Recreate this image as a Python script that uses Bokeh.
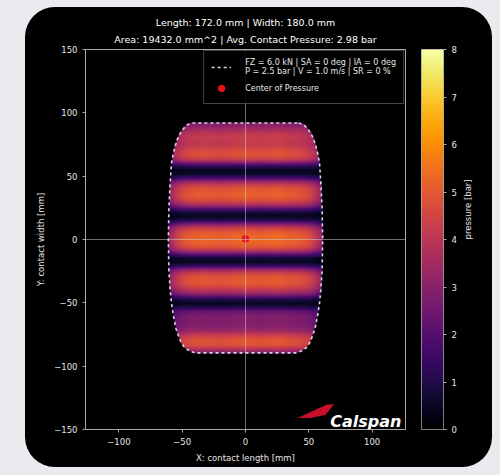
import numpy as np
from bokeh.plotting import figure
from bokeh.models import (LinearColorMapper, Span, Legend, LegendItem, Label,
                          Spacer, FixedTicker, Title)
from bokeh.layouts import row, column
from bokeh.palettes import Inferno256
from bokeh.embed import file_html
from bokeh.resources import INLINE

# ---------------- data ----------------
title_line1 = "Length: 172.0 mm | Width: 180.0 mm"
title_line2 = "Area: 19432.0 mm^2 | Avg. Contact Pressure: 2.98 bar"
legend_patch_label = ("FZ = 6.0 kN | SA = 0 deg | IA = 0 deg\n"
                      "P = 2.5 bar | V = 1.0 m/s | SR = 0 %")
legend_cop_label = "Center of Pressure"

# pressure [bar] along the patch centre line, per row (y in mm)
row_y = [90, 87, 84, 81, 78, 75, 72, 69, 66, 63, 60, 57, 54, 51, 48, 45, 42, 39, 36, 33,
         30, 27, 24, 21, 18, 15, 12, 9, 6, 3, 0, -3, -6, -9, -12, -15, -18, -21, -24, -27,
         -30, -33, -36, -39, -42, -45, -48, -51, -54, -57, -60, -63, -66, -69, -72, -75,
         -78, -81, -84, -87, -90]
row_p = [3.0, 3.5, 4.0, 4.3, 4.3, 4.2, 4.5, 4.8, 4.9, 4.4, 2.9, 1.1, 0.5, 0.6, 1.8, 3.5,
         4.6, 5.0, 5.2, 5.1, 4.7, 3.7, 2.2, 0.8, 0.5, 1.0, 2.8, 4.3, 5.0, 5.3, 5.4, 5.3,
         5.0, 4.0, 2.2, 0.7, 0.5, 1.4, 3.3, 4.5, 5.0, 5.1, 4.9, 4.4, 3.6, 2.3, 0.8, 0.5,
         1.2, 2.4, 2.8, 2.9, 2.9, 3.0, 3.4, 4.2, 4.8, 5.0, 4.8, 3.8, 2.6]

# lateral pressure factor across the patch (x in mm)
lat_x = [-62, -58, -54, -50, -46, -42, -38, -34, -30, -26, -22, -18, -14, -10, -6, -2,
         2, 6, 10, 14, 18, 22, 26, 30, 34, 38, 42, 46, 50, 54, 58, 62]
lat_f = [0.55, 0.70, 0.82, 0.90, 0.94, 0.96, 0.97, 0.98, 0.98, 0.97, 0.96, 0.96, 0.97,
         0.98, 0.99, 1.00, 1.00, 0.99, 0.98, 0.98, 0.99, 1.00, 1.00, 0.99, 0.97, 0.96,
         0.95, 0.93, 0.89, 0.81, 0.69, 0.55]

# contact patch outline: half width (mm) at y (mm)
outline_y = [92, 90.5, 87.5, 84, 80, 74, 68, 60, 45, 25, 0, -25, -40, -50, -60, -70, -76,
             -81, -85.5, -88, -89.5]
outline_hw = [42, 46, 49, 51.5, 53.5, 55.5, 57, 58.5, 59.5, 60.5, 61, 60.5, 59.5, 58.5,
              57, 55, 53, 51, 48, 44, 40]

cop_x = [0.0]
cop_y = [0.5]

x_ticks = [-100, -50, 0, 50, 100]
y_ticks = [-150, -100, -50, 0, 50, 100, 150]
cb_ticks = [0, 1, 2, 3, 4, 5, 6, 7, 8]

# ---------------- build pressure field ----------------
ry = np.array(row_y[::-1], dtype=float)
rp = np.array(row_p[::-1], dtype=float)
gx = np.arange(-63.0, 63.01, 0.5)
gy = np.arange(-92.0, 92.01, 0.5)
P = np.interp(gy, ry, rp)
F = np.interp(gx, np.array(lat_x, float), np.array(lat_f, float))
img = np.outer(P, F)
oy = np.array(outline_y[::-1], float)
ohw = np.array(outline_hw[::-1], float)
hw = np.interp(gy, oy, ohw)
mask = ((np.abs(gx)[None, :] > hw[:, None])
        | (gy[:, None] > max(outline_y)) | (gy[:, None] < min(outline_y)))
img[mask] = np.nan

FONT = "DejaVu Sans"
TXT = "#e6e6e6"
AX = "#a8a8a8"

mapper = LinearColorMapper(palette=Inferno256, low=0, high=8, nan_color="black")

p = figure(width=385, height=460, x_range=(-126.4, 126.4), y_range=(-150, 150),
           output_backend="svg", toolbar_location=None,
           min_border_left=60, min_border_right=5, min_border_top=42, min_border_bottom=38,
           background_fill_color="black", border_fill_color=None,
           outline_line_color=AX)
for txt, sto in ((title_line2, 9), (title_line1, 0)):
    t = Title(text=txt, align="center", text_color="white", text_font=FONT,
              text_font_size="9.5px", text_font_style="normal", standoff=sto)
    p.add_layout(t, "above")
p.grid.visible = False

p.image(image=[img], x=-63.25, y=-92.25, dw=126.5, dh=184.5, color_mapper=mapper)

# outline (dashed)
out_x = list(np.array(outline_hw)) + list(-np.array(outline_hw[::-1])) + [outline_hw[0]]
out_y = list(outline_y) + list(outline_y[::-1]) + [outline_y[0]]
outline_r = p.line(out_x, out_y, line_color="#d8d2ea", line_width=1.6, line_dash="3 3")

p.add_layout(Span(location=0, dimension="width", line_color="#c8c8c8", line_alpha=0.55, line_width=1))
p.add_layout(Span(location=0, dimension="height", line_color="#c8c8c8", line_alpha=0.55, line_width=1))

cop_r = p.scatter(cop_x, cop_y, size=7, color="#e8141c", line_color="#e8141c")

# Calspan logo
logo_x, logo_y = 67.0, -143.5
sw_dx = [-26, -3, 3, -4, -16]
sw_dy = [2.5, 13, 13.5, 5, 2.5]
p.patch([logo_x + d for d in sw_dx], [logo_y + d for d in sw_dy],
        fill_color="#c8102e", line_color=None)
p.add_layout(Label(x=logo_x, y=logo_y, text="Calspan", text_color="white",
                   text_font=FONT, text_font_size="16px", text_font_style="bold italic",
                   text_baseline="alphabetic"))

for ax in (p.xaxis[0], p.yaxis[0]):
    ax.axis_line_color = AX
    ax.major_tick_line_color = AX
    ax.minor_tick_line_color = None
    ax.major_tick_out = 3
    ax.major_tick_in = 0
    ax.major_label_text_color = TXT
    ax.major_label_text_font = FONT
    ax.major_label_text_font_size = "8.5px"
    ax.axis_label_text_color = TXT
    ax.axis_label_text_font = FONT
    ax.axis_label_text_font_size = "8.5px"
    ax.axis_label_text_font_style = "normal"
    ax.axis_label_standoff = 5
p.xaxis.ticker = FixedTicker(ticks=x_ticks)
p.yaxis.ticker = FixedTicker(ticks=y_ticks)
p.xaxis.axis_label = "X: contact length [mm]"
p.yaxis.axis_label = "Y: contact width [mm]"

legend = Legend(items=[LegendItem(label=legend_patch_label, renderers=[outline_r]),
                       LegendItem(label=legend_cop_label, renderers=[cop_r])],
                location="top_right")
legend.background_fill_color = "black"
legend.background_fill_alpha = 0.85
legend.border_line_color = "#8a8a8a"
legend.label_text_color = TXT
legend.label_text_font = FONT
legend.label_text_font_size = "8px"
legend.glyph_width = 20
legend.glyph_height = 16
legend.label_standoff = 14
legend.spacing = 4
legend.padding = 7
legend.margin = 1
p.add_layout(legend)

# ---------------- colorbar figure ----------------
cb = figure(width=82, height=460, x_range=(0, 1), y_range=(0, 8),
            output_backend="svg", toolbar_location=None, y_axis_location="right",
            min_border_left=11, min_border_right=49, min_border_top=36, min_border_bottom=30,
            background_fill_color="black", border_fill_color=None, outline_line_color=AX)
cb.grid.visible = False
cb.xaxis.visible = False
grad = np.linspace(0, 8, 256).reshape(256, 1)
cb.image(image=[grad], x=0, y=0, dw=1, dh=8, color_mapper=mapper)
cax = cb.yaxis[0]
cax.ticker = FixedTicker(ticks=cb_ticks)
cax.axis_line_color = None
cax.major_tick_line_color = AX
cax.minor_tick_line_color = None
cax.major_tick_out = 3
cax.major_tick_in = 0
cax.major_label_text_color = TXT
cax.major_label_text_font = FONT
cax.major_label_text_font_size = "8.5px"
cax.axis_label = "pressure [bar]"
cax.axis_label_text_color = TXT
cax.axis_label_text_font = FONT
cax.axis_label_text_font_size = "8.5px"
cax.axis_label_text_font_style = "normal"
cax.axis_label_standoff = 8
try:
    cax.axis_label_orientation = np.pi / 2
except Exception:
    pass

inner = row(p, cb, styles={"background-color": "black", "border-radius": "30px",
                            "overflow": "hidden"})
layout = column(Spacer(height=7), row(Spacer(width=25), inner),
                width=500, height=475,
                styles={"background-color": "#e9ebee"})

open("out.html", "w").write(file_html(layout, INLINE))
